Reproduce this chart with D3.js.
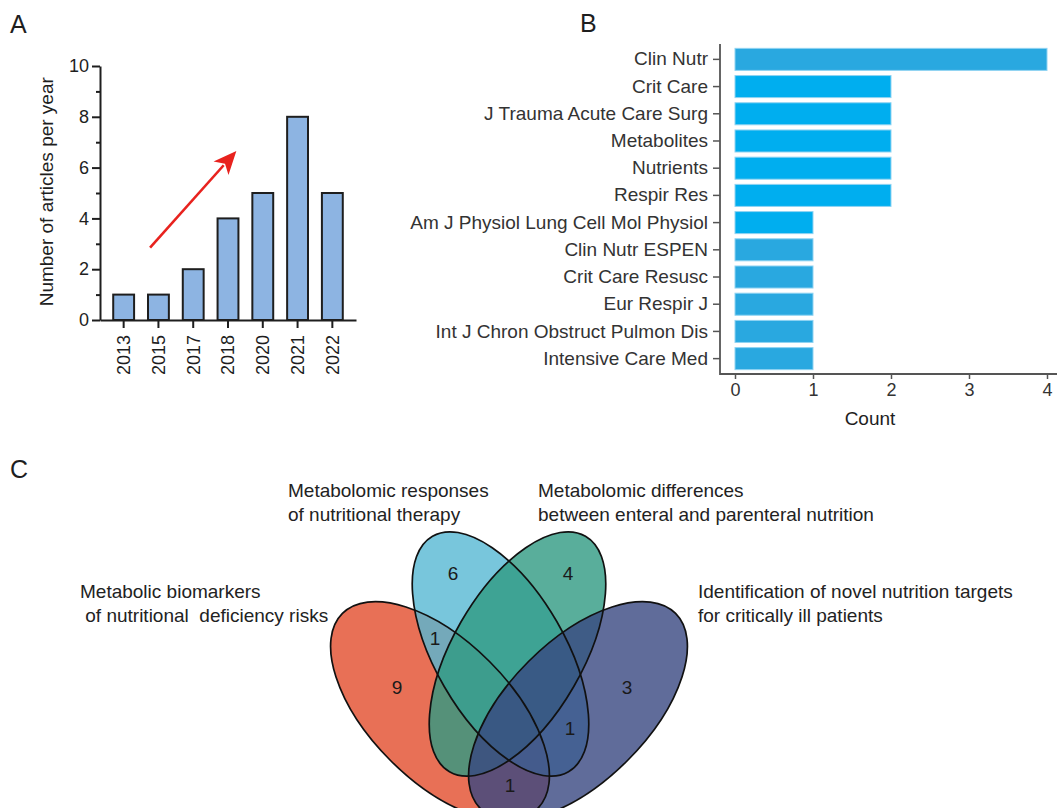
<!DOCTYPE html>
<html>
<head>
<meta charset="utf-8">
<script src="https://cdn.jsdelivr.net/npm/d3@7"></script>
<style>
  body { margin: 0; background: #fff; }
  svg { font-family: "Liberation Sans", Arial, sans-serif; }
</style>
</head>
<body>
<svg id="fig" width="1057" height="808"></svg>
<script>
// PANEL A DATA
let years = ['2013', '2015', '2017', '2018', '2020', '2021', '2022']
let articles = [1, 1, 2, 4, 5, 8, 5]
let yTicksA = [0, 2, 4, 6, 8, 10]
let yMinorA = [1, 3, 5, 7, 9]

// PANEL B DATA
let journals = ['Clin Nutr', 'Crit Care', 'J Trauma Acute Care Surg', 'Metabolites', 'Nutrients',
  'Respir Res', 'Am J Physiol Lung Cell Mol Physiol', 'Clin Nutr ESPEN', 'Crit Care Resusc',
  'Eur Respir J', 'Int J Chron Obstruct Pulmon Dis', 'Intensive Care Med']
let counts = [4, 2, 2, 2, 2, 2, 1, 1, 1, 1, 1, 1]
let xTicksB = [0, 1, 2, 3, 4]

// PANEL C DATA
let setLabels = [
  ['Metabolic biomarkers', ' of nutritional  deficiency risks'],
  ['Metabolomic responses', 'of nutritional therapy'],
  ['Metabolomic differences', 'between enteral and parenteral nutrition'],
  ['Identification of novel nutrition targets', 'for critically ill patients']
]
let regions = ['A', 'B', 'C', 'D', 'AB', 'BD', 'AD']
let regionCounts = [9, 6, 4, 3, 1, 1, 1]

let svg = d3.select('#fig')
let ink = '#1e1e1e'

// ---------- PANEL A ----------
let xA = d3.scaleBand()
  .domain(years)
  .range([100, 356])
  .paddingInner(0.4)
  .paddingOuter(0.38)

let yA = d3.scaleLinear()
  .domain([0, 10])
  .range([320, 66])

let gA = svg.append('g')

gA.selectAll('.barA')
  .data(articles)
  .enter().append('rect')
    .attr('class', 'barA')
    .attr('x', (d, i) => xA(years[i]))
    .attr('y', d => yA(d))
    .attr('width', xA.bandwidth())
    .attr('height', d => yA(0) - yA(d))
    .style('fill', '#8db4e2')
    .style('stroke', ink)
    .style('stroke-width', 2)

gA.append('g')
  .attr('transform', 'translate(100,0)')
  .call(d3.axisLeft(yA).tickValues(yTicksA).tickSize(8).tickSizeOuter(0).tickPadding(3))
gA.append('g')
  .attr('transform', 'translate(100,0)')
  .call(d3.axisLeft(yA).tickValues(yMinorA).tickSize(4).tickFormat(''))
  .select('.domain').remove()

let axAx = gA.append('g')
  .attr('transform', 'translate(0,320)')
  .call(d3.axisBottom(xA).tickSize(8).tickSizeOuter(0))
axAx.selectAll('text')
  .attr('x', -15)
  .attr('y', 0)
  .attr('dy', '0.36em')
  .attr('transform', 'rotate(-90)')
  .style('text-anchor', 'end')

gA.selectAll('.domain, .tick line')
  .style('stroke', ink)
  .style('stroke-width', 2)
gA.selectAll('.tick text')
  .style('font-size', '18px')
  .style('fill', ink)
  .style('font-family', '"Liberation Sans", Arial, sans-serif')

gA.append('text')
  .attr('transform', 'translate(53,' + yA(5.05) + ') rotate(-90)')
  .style('text-anchor', 'middle')
  .style('font-size', '19px')
  .style('fill', ink)
  .text('Number of articles per year')

// trend arrow
let arrowFrom = { i: 0.76, v: 2.85 }
let arrowTo = { i: 3.24, v: 6.65 }
function ax(i) { return xA(years[0]) + xA.bandwidth() / 2 + i * xA.step() }
let x1 = ax(arrowFrom.i), y1 = yA(arrowFrom.v), x2 = ax(arrowTo.i), y2 = yA(arrowTo.v)
let ang = Math.atan2(y2 - y1, x2 - x1)
let headL = 23, headW = 10
gA.append('line')
  .attr('x1', x1).attr('y1', y1)
  .attr('x2', x2 - Math.cos(ang) * (headL - 4)).attr('y2', y2 - Math.sin(ang) * (headL - 4))
  .style('stroke', '#e8221e')
  .style('stroke-width', 2.6)
gA.append('path')
  .attr('d', d3.line()([
    [x2, y2],
    [x2 - Math.cos(ang) * headL + Math.sin(ang) * headW, y2 - Math.sin(ang) * headL - Math.cos(ang) * headW],
    [x2 - Math.cos(ang) * (headL - 6), y2 - Math.sin(ang) * (headL - 6)],
    [x2 - Math.cos(ang) * headL - Math.sin(ang) * headW, y2 - Math.sin(ang) * headL + Math.cos(ang) * headW]
  ]) + 'Z')
  .style('fill', '#e8221e')

// ---------- PANEL B ----------
let barFill = ['#29a8e0', '#00aeef', '#00aeef', '#00aeef', '#00aeef', '#00aeef',
  '#00aeef', '#29a8e0', '#29a8e0', '#29a8e0', '#29a8e0', '#29a8e0']

let xB = d3.scaleLinear()
  .domain([0, 4])
  .range([735, 1047])

let yB = d3.scaleBand()
  .domain(journals)
  .range([44, 374])
  .paddingInner(0.19)
  .paddingOuter(0.16)

let gB = svg.append('g')

gB.selectAll('.barB')
  .data(counts)
  .enter().append('rect')
    .attr('class', 'barB')
    .attr('x', xB(0))
    .attr('y', (d, i) => yB(journals[i]))
    .attr('width', d => xB(d) - xB(0))
    .attr('height', yB.bandwidth())
    .style('fill', (d, i) => barFill[i])
    .style('stroke', '#8fd3f2')
    .style('stroke-width', 1)

gB.append('g')
  .attr('transform', 'translate(720,0)')
  .call(d3.axisLeft(yB).tickSize(7).tickSizeOuter(0).tickPadding(5))
let axBx = gB.append('g')
  .attr('transform', 'translate(0,374)')
  .call(d3.axisBottom(xB).tickValues(xTicksB).tickFormat(d3.format('d'))
    .tickSize(5).tickSizeOuter(0).tickPadding(4))

gB.selectAll('.domain').remove()
gB.selectAll('.tick line')
  .style('stroke', '#555')
  .style('stroke-width', 1.5)
gB.selectAll('.tick text')
  .style('font-size', '19px')
  .style('fill', '#333')
  .style('font-family', '"Liberation Sans", Arial, sans-serif')
axBx.selectAll('.tick text').style('font-size', '18px')

gB.append('path')
  .attr('d', 'M720,' + yB.range()[0] + 'V374H1057')
  .style('fill', 'none')
  .style('stroke', '#555')
  .style('stroke-width', 1.8)

gB.append('text')
  .attr('x', d3.mean(xB.range()) - 21)
  .attr('y', 425)
  .style('text-anchor', 'middle')
  .style('font-size', '19px')
  .style('fill', ink)
  .text('Count')

// ---------- PANEL C ----------
// venn geometry, offsets in px from the centre crossing point
let vx = d3.scaleLinear().domain([-1, 1]).range([309, 709])
let vy = d3.scaleLinear().domain([-1, 1]).range([481, 881])
let u = 1 / 200
let ellipses = [
  { cx: -69 * u, cy: 30 * u, rx: 138, ry: 70, rot: 45, fill: '#e24c2c' },
  { cx: -8.5 * u, cy: -27 * u, rx: 136, ry: 65, rot: 60, fill: '#56b8d3' },
  { cx: 8.5 * u, cy: -27 * u, rx: 136, ry: 65, rot: -60, fill: '#2f9a82' },
  { cx: 69 * u, cy: 30 * u, rx: 138, ry: 70, rot: -45, fill: '#384781' }
]
let regionPos = {
  A: [-112, 6], B: [-56, -108], C: [59, -108], D: [118, 6],
  AB: [-74, -43], BD: [61, 47], AD: [1, 104]
}
let labelPos = [
  { x: 80, y: 598 },
  { x: 288, y: 497 },
  { x: 538, y: 497 },
  { x: 698, y: 598 }
]

let gC = svg.append('g')

gC.selectAll('.vfill')
  .data(ellipses)
  .enter().append('ellipse')
    .attr('class', 'vfill')
    .attr('rx', d => d.rx)
    .attr('ry', d => d.ry)
    .attr('transform', d => 'translate(' + vx(d.cx) + ',' + vy(d.cy) + ') rotate(' + d.rot + ')')
    .style('fill', d => d.fill)
    .style('fill-opacity', 0.8)

gC.selectAll('.vline')
  .data(ellipses)
  .enter().append('ellipse')
    .attr('class', 'vline')
    .attr('rx', d => d.rx)
    .attr('ry', d => d.ry)
    .attr('transform', d => 'translate(' + vx(d.cx) + ',' + vy(d.cy) + ') rotate(' + d.rot + ')')
    .style('fill', 'none')
    .style('stroke', '#111')
    .style('stroke-width', 1.7)

gC.selectAll('.vnum')
  .data(regionCounts)
  .enter().append('text')
    .attr('class', 'vnum')
    .attr('x', (d, i) => vx(regionPos[regions[i]][0] * u))
    .attr('y', (d, i) => vy(regionPos[regions[i]][1] * u))
    .attr('dy', '0.36em')
    .style('text-anchor', 'middle')
    .style('font-size', '19px')
    .style('fill', '#1a1a1a')
    .text(d => d)

setLabels.forEach(function (lines, i) {
  let t = gC.append('text')
    .attr('x', labelPos[i].x)
    .attr('y', labelPos[i].y)
    .style('font-size', '19px')
    .style('fill', '#222')
    .style('white-space', 'pre')
  lines.forEach(function (line, j) {
    t.append('tspan')
      .attr('x', labelPos[i].x)
      .attr('dy', j === 0 ? 0 : 24)
      .text(line)
  })
})

// panel letters
let letters = [['A', 10, 33], ['B', 580, 32], ['C', 10, 478]]
svg.selectAll('.panel-letter')
  .data(letters)
  .enter().append('text')
    .attr('class', 'panel-letter')
    .attr('x', d => d[1])
    .attr('y', d => d[2])
    .style('font-size', '25px')
    .style('fill', ink)
    .text(d => d[0])
</script>
</body>
</html>
